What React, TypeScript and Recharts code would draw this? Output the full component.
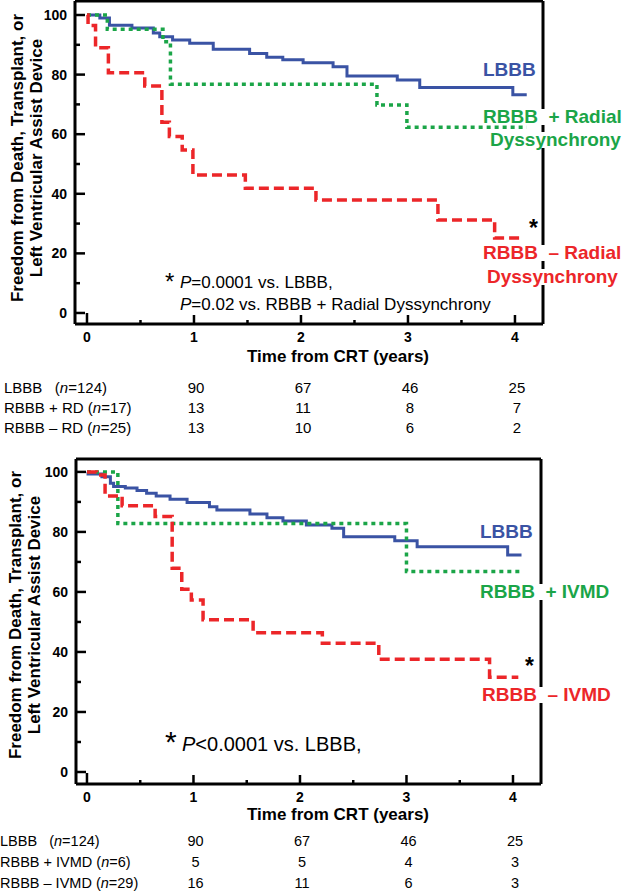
import React from 'react';
import { Line, LineChart, ReferenceLine, XAxis, YAxis } from 'recharts';

type Pt = [number, number];

const BLUE = '#3a53a4';
const GREEN = '#1ba548';
const RED = '#ec2629';
const FONT = "'Liberation Sans', Arial, Helvetica, sans-serif";

// [years from CRT, event-free %]
// top panel: radial dyssynchrony
const RD_LBBB: Pt[] = [
  [0, 100], [0.12, 99], [0.21, 96.6], [0.42, 95.6], [0.62, 94], [0.68, 92.7],
  [0.8, 91.6], [0.96, 90.5], [1.18, 88.5], [1.52, 87.1], [1.68, 85.8], [1.83, 85],
  [2.02, 84], [2.3, 82.6], [2.43, 79.5], [2.9, 78.2], [3.11, 75.7], [3.98, 73.2], [4.11, 73.2],
];
const RD_PLUS: Pt[] = [
  [0, 100], [0.19, 95.2], [0.71, 91], [0.78, 76.8], [2.71, 69.8], [2.99, 62.3], [4.11, 62.3],
];
const RD_MINUS: Pt[] = [
  [0, 100], [0.01, 96.5], [0.08, 89], [0.2, 80.6], [0.54, 76.2], [0.7, 64], [0.77, 59.2],
  [0.89, 54.7], [0.99, 46.3], [1.48, 41.9], [2.14, 37.9], [3.28, 31.2], [3.81, 25.2], [4.07, 25.2],
];

// bottom panel: interventricular mechanical delay
const IVMD_LBBB: Pt[] = [
  [0, 100], [0.01, 99.3], [0.14, 98.4], [0.22, 96.2], [0.25, 95.1], [0.36, 94.6], [0.47, 93.8],
  [0.56, 92.9], [0.65, 92], [0.78, 90.9], [0.94, 89.8], [1.15, 88.4], [1.22, 87.3], [1.53, 86],
  [1.69, 84.7], [1.84, 83.6], [2.06, 82.3], [2.3, 81.2], [2.41, 78.4], [2.89, 77.1], [3.1, 75.1],
  [3.95, 72.3], [4.08, 72.3],
];
const IVMD_PLUS: Pt[] = [[0, 100], [0.29, 82.8], [3.0, 66.8], [4.08, 66.8]];
const IVMD_MINUS: Pt[] = [
  [0, 100], [0.09, 99], [0.17, 92], [0.33, 88.7], [0.64, 85.1], [0.8, 67.9], [0.89, 60.9],
  [0.98, 57.3], [1.09, 50.7], [1.56, 46.4], [2.21, 42.9], [2.74, 37.6], [3.78, 31.6], [4.05, 31.6],
];

const X_TICKS = [0, 0.5, 1, 1.5, 2, 2.5, 3, 3.5, 4];
const Y_TICKS = [0, 10, 20, 30, 40, 50, 60, 70, 80, 90, 100];
const RISK_YEARS = [1, 2, 3, 4];

const RD_RISK_LBBB = [90, 67, 46, 25];
const RD_RISK_PLUS = [13, 11, 8, 7];
const RD_RISK_MINUS = [13, 10, 6, 2];
const IVMD_RISK_LBBB = [90, 67, 46, 25];
const IVMD_RISK_PLUS = [5, 5, 4, 3];
const IVMD_RISK_MINUS = [16, 11, 6, 3];

const CHART_W = 625;
const CHART_H = 370;

interface Frame {
  top: number;
  plotTop: number;
  plotBottom: number;
  plotLeft: number;
  plotRight: number;
  xDomain: [number, number];
  yDomain: [number, number];
}

const RD_FRAME: Frame = {
  top: 0, plotTop: 1, plotBottom: 324, plotLeft: 75, plotRight: 543,
  xDomain: [-0.112, 4.262], yDomain: [-3.7, 104.7],
};
const IVMD_FRAME: Frame = {
  top: 440, plotTop: 19, plotBottom: 344, plotLeft: 76, plotRight: 541,
  xDomain: [-0.103, 4.263], yDomain: [-4, 104.3],
};

interface Curve {
  name: string;
  points: Pt[];
  color: string;
  dash?: string;
  width: number;
}

function yearToX(f: Frame, t: number) {
  const [a, b] = f.xDomain;
  return f.plotLeft + ((t - a) / (b - a)) * (f.plotRight - f.plotLeft);
}

function KMChart({ frame, curves }: { frame: Frame; curves: Curve[] }) {
  const xTick = (props: any) => {
    const { x, payload } = props;
    const v = payload.value as number;
    const major = Number.isInteger(v);
    const len = v === 0 ? 11 : major ? 9 : 4;
    return (
      <g>
        <line x1={x} x2={x} y1={frame.plotBottom} y2={frame.plotBottom - len} stroke="#000" strokeWidth={2.5} />
        {major && (
          <text x={x} y={frame.plotBottom + 13} textAnchor="middle" dominantBaseline="central"
            fontFamily={FONT} fontWeight="bold" fontSize={14} fill="#000">
            {v}
          </text>
        )}
      </g>
    );
  };
  const yTick = (props: any) => {
    const { y, payload } = props;
    const v = payload.value as number;
    const major = v % 20 === 0;
    return (
      <g>
        <line x1={frame.plotLeft} x2={frame.plotLeft + (major ? 10 : 5)} y1={y} y2={y} stroke="#000" strokeWidth={2.5} />
        {major && (
          <text x={frame.plotLeft - 8} y={y} textAnchor="end" dominantBaseline="central"
            fontFamily={FONT} fontWeight="bold" fontSize={14} fill="#000">
            {v}
          </text>
        )}
      </g>
    );
  };

  return (
    <div style={{ position: 'absolute', left: 0, top: frame.top }}>
      <LineChart
        width={CHART_W}
        height={CHART_H}
        margin={{ top: frame.plotTop, right: CHART_W - frame.plotRight, left: 0, bottom: 0 }}
      >
        <XAxis
          type="number"
          dataKey="t"
          domain={frame.xDomain}
          ticks={X_TICKS}
          interval={0}
          allowDataOverflow
          height={CHART_H - frame.plotBottom}
          axisLine={{ stroke: '#000', strokeWidth: 3 }}
          tickLine={false}
          tick={xTick}
        />
        <YAxis
          type="number"
          domain={frame.yDomain}
          ticks={Y_TICKS}
          interval={0}
          allowDataOverflow
          width={frame.plotLeft}
          axisLine={{ stroke: '#000', strokeWidth: 3 }}
          tickLine={false}
          tick={yTick}
        />
        <ReferenceLine y={frame.yDomain[1]} stroke="#000" strokeWidth={3} />
        <ReferenceLine x={frame.xDomain[1]} stroke="#000" strokeWidth={3} />
        {curves.map((c) => (
          <Line
            key={c.name}
            name={c.name}
            data={c.points.map(([t, s]) => ({ t, s }))}
            dataKey="s"
            type="stepAfter"
            stroke={c.color}
            strokeWidth={c.width}
            strokeDasharray={c.dash}
            dot={false}
            activeDot={false}
            isAnimationActive={false}
          />
        ))}
      </LineChart>
    </div>
  );
}

function Txt({
  x, cy, size, bold, color = '#000', align = 'left', bg, children,
}: {
  x: number; cy: number; size: number; bold?: boolean; color?: string;
  align?: 'left' | 'center'; bg?: boolean; children: React.ReactNode;
}) {
  const lh = Math.round(size * 0.85);
  const style: React.CSSProperties = {
    position: 'absolute',
    top: cy - lh / 2,
    lineHeight: `${lh}px`,
    fontSize: size,
    fontFamily: FONT,
    fontWeight: bold ? 'bold' : 'normal',
    color,
    whiteSpace: 'pre',
    background: bg ? '#fff' : undefined,
  };
  if (align === 'center') {
    style.left = x - 150;
    style.width = 300;
    style.textAlign = 'center';
  } else {
    style.left = x;
  }
  return <div style={style}>{children}</div>;
}

function YTitle({ cx, cy }: { cx: number; cy: number }) {
  return (
    <div
      style={{
        position: 'absolute', left: cx - 170, top: cy - 19, width: 340, height: 38,
        lineHeight: '19px', textAlign: 'center', fontFamily: FONT, fontWeight: 'bold',
        fontSize: 17, color: '#000', transform: 'rotate(-90deg)', whiteSpace: 'nowrap',
      }}
    >
      Freedom from Death, Transplant, or
      <br />
      Left Ventricular Assist Device
    </div>
  );
}

function RiskRow({ frame, label, counts, cy, x0, size }: {
  frame: Frame; label: React.ReactNode; counts: number[]; cy: number; x0: number; size: number;
}) {
  return (
    <>
      <Txt x={x0} cy={cy} size={size}>{label}</Txt>
      {RISK_YEARS.map((yr, i) => (
        <Txt key={yr} x={yearToX(frame, yr) + 2} cy={cy} size={size} align="center">
          {counts[i]}
        </Txt>
      ))}
    </>
  );
}

const nLabel = (head: string, n: number) => (
  <>
    {head}(<i>n</i>={n})
  </>
);

export default function App() {
  const rdCurves: Curve[] = [
    { name: 'LBBB', points: RD_LBBB, color: BLUE, width: 3 },
    { name: 'RBBB + RD', points: RD_PLUS, color: GREEN, dash: '4 4', width: 3.5 },
    { name: 'RBBB - RD', points: RD_MINUS, color: RED, dash: '10 5', width: 3.5 },
  ];
  const ivmdCurves: Curve[] = [
    { name: 'LBBB', points: IVMD_LBBB, color: BLUE, width: 3 },
    { name: 'RBBB + IVMD', points: IVMD_PLUS, color: GREEN, dash: '4 4', width: 3.5 },
    { name: 'RBBB - IVMD', points: IVMD_MINUS, color: RED, dash: '10 5', width: 3.5 },
  ];

  return (
    <div style={{ position: 'absolute', left: 0, top: 0, width: 625, height: 891, background: '#fff', overflow: 'hidden' }}>
      {/* top panel */}
      <KMChart frame={RD_FRAME} curves={rdCurves} />
      <YTitle cx={27} cy={158} />
      <Txt x={338} cy={357} size={17} bold align="center">Time from CRT (years)</Txt>
      <Txt x={483} cy={70} size={19} bold color={BLUE}>LBBB</Txt>
      <Txt x={483} cy={117} size={19} bold color={GREEN} bg>{'RBBB  + Radial'}</Txt>
      <Txt x={490} cy={140} size={19} bold color={GREEN} bg>Dyssynchrony</Txt>
      <Txt x={483} cy={253} size={19} bold color={RED} bg>{'RBBB  – Radial'}</Txt>
      <Txt x={487} cy={277} size={19} bold color={RED} bg>Dyssynchrony</Txt>
      <Txt x={529} cy={228} size={23} bold>*</Txt>
      <Txt x={165} cy={282} size={24}>*</Txt>
      <Txt x={180} cy={283} size={17}><i>P</i>=0.0001 vs. LBBB,</Txt>
      <Txt x={180} cy={305} size={17}><i>P</i>=0.02 vs. RBBB + Radial Dyssynchrony</Txt>
      <RiskRow frame={RD_FRAME} x0={4} cy={387} size={15} label={nLabel('LBBB   ', 124)} counts={RD_RISK_LBBB} />
      <RiskRow frame={RD_FRAME} x0={4} cy={407} size={15} label={nLabel('RBBB + RD ', 17)} counts={RD_RISK_PLUS} />
      <RiskRow frame={RD_FRAME} x0={4} cy={427} size={15} label={nLabel('RBBB – RD ', 25)} counts={RD_RISK_MINUS} />

      {/* bottom panel */}
      <KMChart frame={IVMD_FRAME} curves={ivmdCurves} />
      <YTitle cx={25} cy={615} />
      <Txt x={338} cy={815} size={17} bold align="center">Time from CRT (years)</Txt>
      <Txt x={480} cy={532} size={19} bold color={BLUE}>LBBB</Txt>
      <Txt x={480} cy={592} size={19} bold color={GREEN} bg>{'RBBB  + IVMD'}</Txt>
      <Txt x={482} cy={695} size={19} bold color={RED} bg>{'RBBB  – IVMD'}</Txt>
      <Txt x={525} cy={666} size={23} bold>*</Txt>
      <Txt x={165} cy={742} size={30}>*</Txt>
      <Txt x={182} cy={744} size={20}><i>P</i>&lt;0.0001 vs. LBBB,</Txt>
      <RiskRow frame={IVMD_FRAME} x0={0} cy={841} size={14.5} label={nLabel('LBBB   ', 124)} counts={IVMD_RISK_LBBB} />
      <RiskRow frame={IVMD_FRAME} x0={0} cy={862} size={14.5} label={nLabel('RBBB + IVMD ', 6)} counts={IVMD_RISK_PLUS} />
      <RiskRow frame={IVMD_FRAME} x0={0} cy={883} size={14.5} label={nLabel('RBBB – IVMD ', 29)} counts={IVMD_RISK_MINUS} />
    </div>
  );
}
